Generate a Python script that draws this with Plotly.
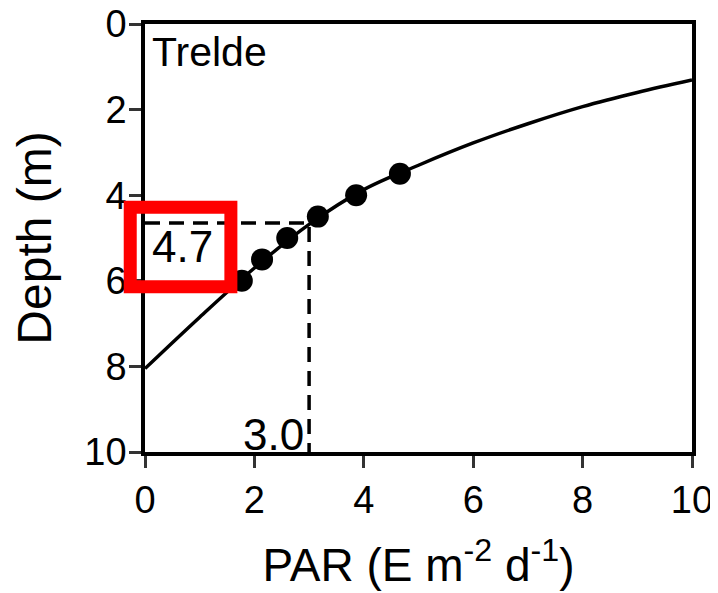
import plotly.graph_objects as go

# measured points (PAR vs depth)
par_obs = [1.77, 2.14, 2.60, 3.16, 3.86, 4.66]
depth_obs = [6.0, 5.5, 5.0, 4.5, 4.0, 3.5]

# fitted curve
par_fit = [0, 1, 2, 3, 4, 5, 6, 7, 8, 9, 10]
depth_fit = [8.05, 6.85, 5.70, 4.68, 3.87, 3.30, 2.78, 2.33, 1.93, 1.60, 1.31]

# compensation depth / PAR readout
par_crit = 3.0
depth_crit = 4.65
depth_label = "4.7"
par_label = "3.0"
site = "Trelde"

FONT = "Liberation Sans, Arial, sans-serif"

fig = go.Figure()

fig.add_trace(go.Scatter(
    x=par_fit, y=depth_fit, mode="lines", line=dict(color="black", width=3.5, shape="spline"),
    showlegend=False, hoverinfo="skip"
))
fig.add_trace(go.Scatter(
    x=par_obs, y=depth_obs, mode="markers", marker=dict(color="black", size=22),
    showlegend=False
))

# dashed guides
fig.add_trace(go.Scatter(
    x=[0, par_crit, par_crit], y=[depth_crit, depth_crit, 10], mode="lines",
    line=dict(color="black", width=3.5, dash="15px,9px"), showlegend=False, hoverinfo="skip"
))

fig.add_annotation(x=0.1, y=5.2, text=depth_label, showarrow=False, xanchor="left",
                   font=dict(size=44, color="black", family=FONT))
fig.add_annotation(x=2.95, y=9.6, text=par_label, showarrow=False, xanchor="right",
                   font=dict(size=44, color="black", family=FONT))
fig.add_annotation(x=0.1, y=0.65, text=site, showarrow=False, xanchor="left",
                   font=dict(size=41, color="black", family=FONT))

# red highlight box (drawn in axis-domain units so it is not clipped)
fig.add_shape(type="rect", xref="x domain", yref="y domain",
              x0=-0.027, x1=0.157, y0=0.386, y1=0.572,
              line=dict(color="#ff0000", width=13), fillcolor="rgba(0,0,0,0)", layer="above")

axis_common = dict(
    showline=True, linecolor="black", linewidth=3.5, mirror=True,
    ticks="outside", ticklen=12, tickwidth=3, tickcolor="#333",
    showgrid=False, zeroline=False, automargin=False, ticklabeloverflow="allow",
    tickfont=dict(size=38, color="black", family=FONT),
    tick0=0, dtick=2,
)

# page body adds an 8px margin, so the figure is made 8px smaller each way
fig.update_layout(
    width=710, height=585,
    margin=dict(l=137, r=26, t=16, b=141),
    plot_bgcolor="white", paper_bgcolor="white",
    xaxis=dict(range=[0, 10], title=dict(text="PAR (E m<sup>-2</sup> d<sup>-1</sup>)",
               font=dict(size=46, color="black", family=FONT), standoff=29), **axis_common),
    yaxis=dict(range=[10, 0], ticklabelstandoff=-5,
               title=dict(text="Depth (m)", font=dict(size=48, color="black", family=FONT),
                          standoff=22), **axis_common),
)

fig.write_html("out.html")
